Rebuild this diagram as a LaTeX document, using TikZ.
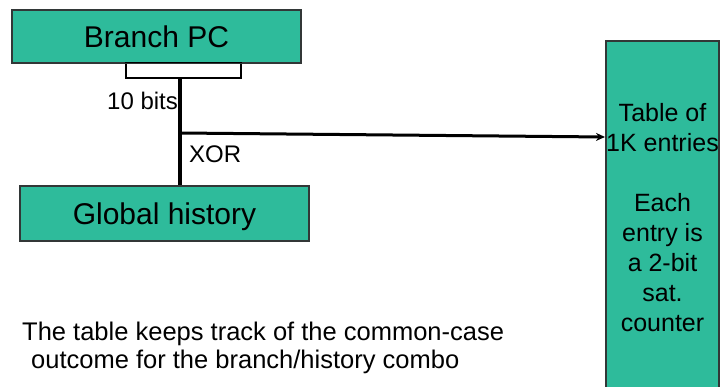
\documentclass[tikz,border=0pt]{standalone}
\usepackage{fontspec}
\setmainfont{Liberation Sans}
\usetikzlibrary{arrows.meta}
\definecolor{teal1}{RGB}{46,187,155}
\definecolor{edge1}{RGB}{50,55,55}
\begin{document}
\begin{tikzpicture}[x=1pt,y=-1pt,
  box/.style={draw=edge1,line width=1.5pt,fill=teal1,rectangle,inner sep=0pt,
    text height=22pt,text depth=0pt,font=\fontsize{30}{36}\selectfont},
  lbl/.style={inner sep=0pt,font=\fontsize{24}{28}\selectfont},
  wire/.style={line width=3.5pt}]
\useasboundingbox (0,0) rectangle (722,387);
% boxes
\node[box,minimum width=289pt,minimum height=53pt] (bpc) at (156.5,36.5) {Branch PC};
\node[draw=black,line width=2pt,fill=white,inner sep=0pt,minimum width=115pt,minimum height=15pt] (field) at (183.5,70.5) {};
\draw[draw=edge1,line width=1.5pt] (bpc.south west) -- (bpc.south east);
\node[box,minimum width=289pt,minimum height=55pt] (gh) at (164.5,213.5) {Global history};
\node[draw=edge1,line width=1.5pt,fill=teal1,inner sep=0pt,minimum width=113pt,minimum height=350pt] (tbl) at (662.5,216) {};
\node[inner sep=0pt,anchor=north,align=center,font=\fontsize{25}{30}\selectfont] (tbltxt) at (662.5,102.8)
  {Table of\\1K entries\\[30pt]Each\\entry is\\a 2-bit\\sat.\\counter};
% connectors
\coordinate (fb) at (180,78);
\coordinate (jn) at (180,133);
\coordinate (tin) at (605,137);
\draw[wire] (fb) -- (gh.north -| fb);
\draw[line width=3pt,-{Stealth[length=9pt,width=8pt]}] (jn) -- (tin);
% labels
\node[lbl,anchor=base west] (bits) at (107,110) {10 bits};
\node[lbl,anchor=base west] (xor) at (189,163) {XOR};
\node[inner sep=0pt,anchor=north west,align=left,font=\fontsize{25.5}{28}\selectfont] (note) at (22,321.5)
  {The table keeps track of the common-case\\\hspace*{9pt}outcome for the branch/history combo};
\end{tikzpicture}
\end{document}
